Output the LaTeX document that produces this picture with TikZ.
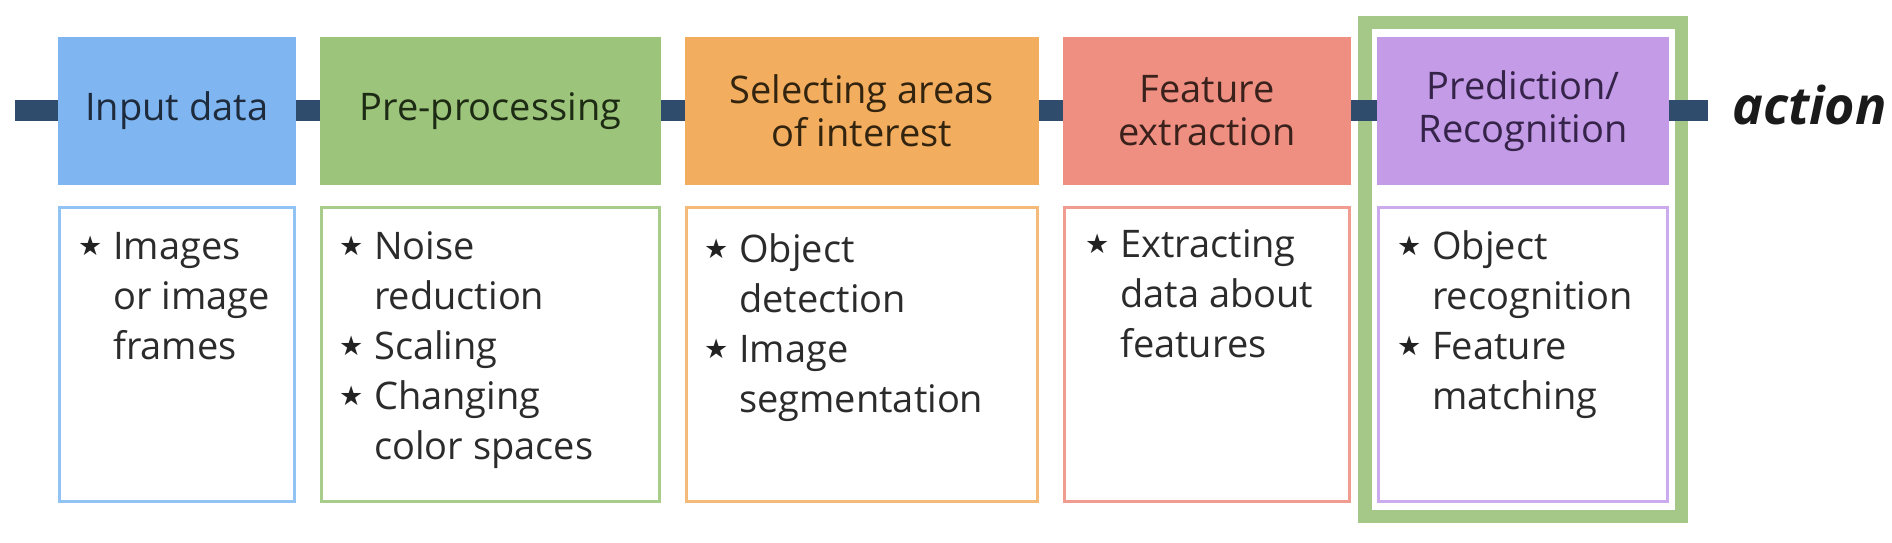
\documentclass[tikz,border=0pt]{standalone}
\usepackage{fontspec}
\setmainfont{Open Sans}
\newfontfamily\symfont{DejaVu Sans}
\definecolor{barc}{HTML}{2F4C6D}
\definecolor{bluef}{HTML}{7FB6F1}
\definecolor{blueb}{HTML}{92C3F5}
\definecolor{bluet}{HTML}{1E2B3C}
\definecolor{greenf}{HTML}{9DC47B}
\definecolor{greenb}{HTML}{A8CD8A}
\definecolor{greent}{HTML}{1D2A14}
\definecolor{orangef}{HTML}{F2AD5F}
\definecolor{orangeb}{HTML}{F4BA7A}
\definecolor{oranget}{HTML}{33240F}
\definecolor{redf}{HTML}{EE8F81}
\definecolor{redb}{HTML}{F09C90}
\definecolor{redt}{HTML}{3A211C}
\definecolor{purplef}{HTML}{C39BE6}
\definecolor{purpleb}{HTML}{CCAAEE}
\definecolor{purplet}{HTML}{35234A}
\definecolor{framec}{HTML}{A5C888}
\definecolor{bodyc}{HTML}{2B2B2B}
\definecolor{starc}{HTML}{222222}
\definecolor{actionc}{HTML}{1A1A1A}
\newcommand\st{\makebox[35pt][l]{\raisebox{4pt}{\fontsize{27}{27}\selectfont\symfont\color{starc}★}}}
\begin{document}
\begin{tikzpicture}[x=1pt,y=-1pt,
  hdr/.style={rectangle, inner sep=0pt, minimum height=147.5pt, align=center, font=\fontsize{38}{43}\selectfont},
  bodybox/.style={rectangle, draw, line width=3pt, inner sep=0pt, minimum height=294pt, fill=white},
  bodytext/.style={anchor=base west, inner sep=0pt, font=\fontsize{38}{50}\selectfont, text=bodyc},
  barline/.style={draw=barc, line width=21pt},
  ]
\useasboundingbox[fill=white] (0,0) rectangle (1892,542);
\node[draw=framec, line width=13.5pt, minimum width=316.5pt, minimum height=494pt, inner sep=0pt] (frame) at (1523.25,269.5) {};
\node[hdr, fill=bluef, text=bluet, minimum width=237.5pt] (h1) at (176.75,110.75) {Input data};
\node[hdr, fill=greenf, text=greent, minimum width=341pt] (h2) at (490.5,110.75) {Pre-processing};
\node[hdr, fill=orangef, text=oranget, minimum width=353.5pt] (h3) at (861.75,110.75) {Selecting areas\\of interest};
\node[hdr, fill=redf, text=redt, minimum width=288pt] (h4) at (1207,110.75) {Feature\\extraction};
\node[hdr, fill=purplef, text=purplet, minimum width=292pt] (h5) at (1523,110.75) {Prediction/\\Recognition};
\coordinate (start) at (15,110.75);
\coordinate (end) at (1708,110.75);
\draw[barline] (start) -- (h1);
\draw[barline] (h1) -- (h2);
\draw[barline] (h2) -- (h3);
\draw[barline] (h3) -- (h4);
\draw[barline] (h4) -- (h5);
\draw[barline] (h5) -- (end);
\node[anchor=base west, inner sep=0pt, font=\fontsize{52}{52}\selectfont\bfseries\itshape, text=actionc] (action) at (1732,124) {action};
\node[bodybox, draw=blueb, minimum width=234.5pt] (b1) at (176.75,354.5) {};
\node[bodybox, draw=greenb, minimum width=338pt] (b2) at (490.5,354.5) {};
\node[bodybox, draw=orangeb, minimum width=350.5pt] (b3) at (861.75,354.5) {};
\node[bodybox, draw=redb, minimum width=285pt] (b4) at (1207,354.5) {};
\node[bodybox, draw=purpleb, minimum width=289pt] (b5) at (1523,354.5) {};
\node[bodytext] (t1) at (78,259) {\begin{tabular}[t]{@{}l@{}l@{}}\st & Images\\ & or image\\ & frames\end{tabular}};
\node[bodytext] (t2) at (339,259) {\begin{tabular}[t]{@{}l@{}l@{}}\st & Noise\\ & reduction\\ \st & Scaling\\ \st & Changing\\ & color spaces\end{tabular}};
\node[bodytext] (t3) at (704,262) {\begin{tabular}[t]{@{}l@{}l@{}}\st & Object\\ & detection\\ \st & Image\\ & segmentation\end{tabular}};
\node[bodytext] (t4) at (1085,257) {\begin{tabular}[t]{@{}l@{}l@{}}\st & Extracting\\ & data about\\ & features\end{tabular}};
\node[bodytext] (t5) at (1397,259) {\begin{tabular}[t]{@{}l@{}l@{}}\st & Object\\ & recognition\\ \st & Feature\\ & matching\end{tabular}};
\end{tikzpicture}
\end{document}
